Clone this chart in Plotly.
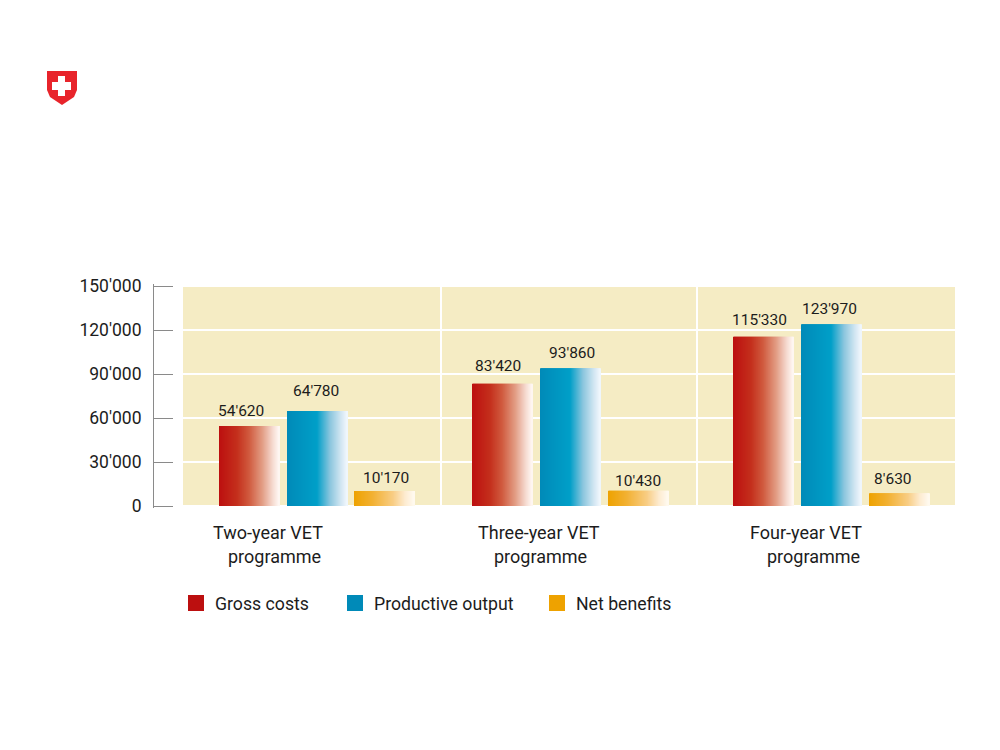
"""Apprenticeship costs and benefits by VET programme length."""
import plotly.graph_objects as go

WIDTH, HEIGHT = 1000, 750
# plot box runs 2px past the 0 and 150'000 lines so plotly keeps the inside ticks there
LEFT, RIGHT, TOP, BOTTOM = 154, 955, 284, 508
Y_PAD = 2 * 150000 / 220

FONT = 'Roboto'
TEXT_COLOR = '#1c1c1c'
BEIGE = '#f5ecc4'

values = {
    'Gross costs': [54620, 83420, 115330],
    'Productive output': [64780, 93860, 123970],
    'Net benefits': [10170, 10430, 8630],
}
# left edge of each bar and centre of its label, in px along the x axis
bar_left = {
    'Gross costs': [219, 472, 733],
    'Productive output': [287, 540, 801],
    'Net benefits': [354, 608, 869],
}
label_x = {
    'Gross costs': [241, 498, 759],
    'Productive output': [316, 572, 829],
    'Net benefits': [386, 638, 893],
}
# the labels do not sit at a constant height above the bars
label_gap = {
    'Gross costs': [15, 18, 17],
    'Productive output': [20, 15, 15],
    'Net benefits': [13, 10, 14],
}
BAR_WIDTH = 60

gradients = {
    'Gross costs': [(0, '#bc0f0f'), (0.3, '#c42f1c'), (0.5, '#d05a3e'), (0.72, '#e29c84'), (0.9, '#f6dcd2'), (1, '#fff8f4')],
    'Productive output': [(0, '#008ab8'), (0.5, '#009fc8'), (0.72, '#8cc6de'), (0.9, '#d2e6f2'), (1, '#f2f7fd')],
    'Net benefits': [(0, '#eea200'), (0.3, '#f2b030'), (0.65, '#f8cd84'), (0.85, '#fdebd0'), (1, '#fffaf0')],
}
swatches = {'Gross costs': '#bc0f0f', 'Productive output': '#008ab8', 'Net benefits': '#eea200'}

programmes = [
    [('Two-year VET', 213), ('programme', 228)],
    [('Three-year VET', 478), ('programme', 494)],
    [('Four-year VET', 750), ('programme', 767)],
]
legend_pos = {'Gross costs': (188, 215), 'Productive output': (347, 374), 'Net benefits': (549, 576)}


def px_x(x):
    return (x - LEFT) / (RIGHT - LEFT)


def px_y(y):
    return (BOTTOM - y) / (BOTTOM - TOP)


def blend(stops, t):
    for (t0, c0), (t1, c1) in zip(stops, stops[1:]):
        if t <= t1:
            f = (t - t0) / (t1 - t0)
            rgb = [round(int(c0[i:i + 2], 16) * (1 - f) + int(c1[i:i + 2], 16) * f) for i in (1, 3, 5)]
            return f'rgb({rgb[0]},{rgb[1]},{rgb[2]})'
    return stops[-1][1]


fig = go.Figure()
annotations = []

# each bar is a row of 1px bars of the same height, which gives the horizontal fade
for name, vals in values.items():
    xs, ys, colors = [], [], []
    for left, val in zip(bar_left[name], vals):
        for i in range(BAR_WIDTH):
            xs.append(left + i + 1)
            ys.append(val)
            colors.append(blend(gradients[name], (i + 0.5) / BAR_WIDTH))
    fig.add_trace(go.Bar(
        x=xs, y=ys, width=1.2, name=name,
        marker=dict(color=colors, line=dict(width=0)),
        showlegend=False,
    ))
    for x, val, gap in zip(label_x[name], vals, label_gap[name]):
        annotations.append(dict(
            text=f'{val:,}'.replace(',', "'"), x=x, y=val, xref='x', yref='y',
            yanchor='middle', yshift=gap, showarrow=False,
            font=dict(family=FONT, size=15.5, color=TEXT_COLOR),
        ))

shapes = [dict(
    type='rect', layer='below', xref='x', yref='y',
    x0=183, x1=RIGHT, y0=0, y1=150000, fillcolor=BEIGE, line_width=0,
)]

# Swiss shield, top left
shield = [(47, 71), (77, 71), (77, 90), (74, 97), (62, 105), (50, 97), (47, 90)]
shield_path = 'M ' + ' L '.join(f'{px_x(x)} {px_y(y)}' for x, y in shield) + ' Z'
shapes.append(dict(type='path', xref='paper', yref='paper', path=shield_path, fillcolor='#e8242b', line_width=0))
shapes.append(dict(type='rect', xref='paper', yref='paper', x0=px_x(52), x1=px_x(71), y0=px_y(90), y1=px_y(82),
                   fillcolor='white', line_width=0))
shapes.append(dict(type='rect', xref='paper', yref='paper', x0=px_x(58), x1=px_x(65), y0=px_y(96), y1=px_y(76),
                   fillcolor='white', line_width=0))

for lines in programmes:
    for row, (text, x) in enumerate(lines):
        annotations.append(dict(
            text=text, x=x, xref='x', xanchor='left', xshift=-2,
            y=px_y(532.5 + row * 23.5), yref='paper', yanchor='middle',
            showarrow=False, font=dict(family=FONT, size=18, color=TEXT_COLOR),
        ))

for name, (box_x, text_x) in legend_pos.items():
    shapes.append(dict(type='rect', xref='paper', yref='paper', x0=px_x(box_x), x1=px_x(box_x + 16),
                       y0=px_y(611), y1=px_y(595), fillcolor=swatches[name], line_width=0))
    annotations.append(dict(
        text=name, x=text_x, xref='x', xanchor='left', xshift=-2,
        y=px_y(604), yref='paper', yanchor='middle',
        showarrow=False, font=dict(family=FONT, size=17.7, color=TEXT_COLOR),
    ))

fig.update_layout(
    width=WIDTH, height=HEIGHT,
    margin=dict(l=LEFT, r=WIDTH - RIGHT, t=TOP, b=HEIGHT - BOTTOM, pad=0),
    paper_bgcolor='white', plot_bgcolor='white',
    barmode='overlay', showlegend=False,
    separators=".'",
    shapes=shapes, annotations=annotations,
    xaxis=dict(
        range=[LEFT, RIGHT], tickvals=[440.5, 697], showticklabels=False, ticks='',
        showgrid=True, gridcolor='white', gridwidth=2, zeroline=False, showline=False,
    ),
    yaxis=dict(
        range=[-Y_PAD, 150000 + Y_PAD], tickvals=[0, 30000, 60000, 90000, 120000, 150000], tickformat=',',
        ticks='inside', ticklen=19, tickcolor='#8a8a8a', tickwidth=1,
        showline=True, linecolor='#8a8a8a', linewidth=1,
        showgrid=True, gridcolor='white', gridwidth=1.5, zeroline=False,
        ticklabelstandoff=8,
        tickfont=dict(family=FONT, size=17.5, color=TEXT_COLOR),
    ),
)

# the page body has a default margin that would push the figure 8px down and right
fig.write_html("out.html", config=dict(displayModeBar=False),
               post_script="document.body.style.margin = '0';")
